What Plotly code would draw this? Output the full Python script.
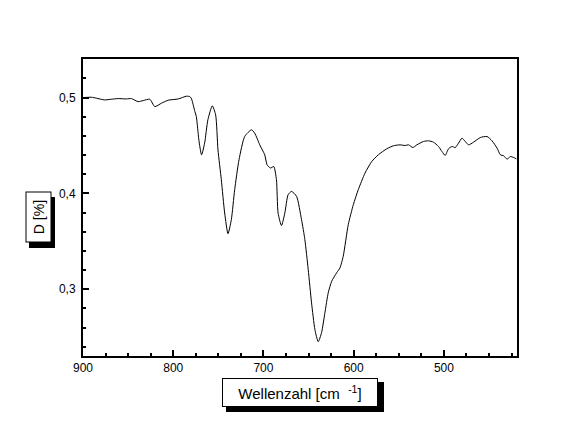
import plotly.graph_objects as go

# Wavenumber (cm^-1) and D values
wavenumber = [900, 890.8, 885.2, 876.3, 868.6, 861.1, 851.9, 846.3, 838.9, 833.3,
              826.0, 820.4, 813.0, 805.6, 794.4, 785.2, 781.6, 780.0, 776.0, 774.4,
              772.2, 771.6, 768.6, 765.2, 761.6, 756.7, 753.0, 750.4, 746.7, 743.0,
              739.3, 735.6, 731.9, 727.1, 720.8, 713.3, 709.7, 704.1, 698.6, 696.0,
              692.2, 688.6, 685.6, 683.8, 680.0, 676.3, 672.7, 668.9, 663.3, 657.8,
              654.1, 650.4, 646.7, 643.0, 639.3, 635.6, 631.9, 628.2, 624.4, 618.9,
              615.2, 611.6, 606.0, 600.4, 594.9, 587.4, 580.0, 572.7, 563.3, 556.0,
              548.6, 543.0, 539.3, 534.4, 530.0, 522.7, 517.1, 511.6, 506.0, 502.2,
              498.6, 494.9, 491.1, 487.4, 483.8, 480.0, 476.3, 472.7, 467.1, 459.7,
              452.2, 446.7, 441.1, 437.4, 433.8, 430.0, 426.3, 422.7, 419.7]
d_values = [0.5000, 0.5004, 0.4994, 0.4976, 0.4983, 0.4990, 0.4986, 0.4990, 0.4958, 0.4969,
            0.4983, 0.4906, 0.4942, 0.4973, 0.4986, 0.5015, 0.5010, 0.4994, 0.4854, 0.4802,
            0.4611, 0.4559, 0.4403, 0.4525, 0.4768, 0.4914, 0.4820, 0.4455, 0.4143, 0.3796,
            0.3580, 0.3726, 0.4039, 0.4351, 0.4594, 0.4664, 0.4629, 0.4507, 0.4403, 0.4299,
            0.4265, 0.4281, 0.4143, 0.3796, 0.3664, 0.3796, 0.3986, 0.4021, 0.3969, 0.3726,
            0.3518, 0.3205, 0.2858, 0.2580, 0.2452, 0.2546, 0.2754, 0.2963, 0.3083, 0.3171,
            0.3223, 0.3344, 0.3674, 0.3882, 0.4039, 0.4213, 0.4333, 0.4403, 0.4466, 0.4497,
            0.4507, 0.4500, 0.4507, 0.4479, 0.4507, 0.4542, 0.4549, 0.4535, 0.4490, 0.4438,
            0.4396, 0.4466, 0.4490, 0.4479, 0.4525, 0.4577, 0.4542, 0.4507, 0.4535, 0.4583,
            0.4594, 0.4549, 0.4473, 0.4403, 0.4393, 0.4358, 0.4385, 0.4375, 0.4361]

x_title = "Wellenzahl [cm  <sup>-1</sup>]"
y_title = "D [%]"

OFF = 8                     # default page body margin
W, H = 569 - OFF, 421 - OFF
L, R, T, B = 83, 517, 59, 356   # plot frame in screen pixels


def px(x):
    return (x - L) / (R - L)


def py(y):
    return (B - y) / (B - T)


fig = go.Figure()
fig.add_trace(go.Scatter(x=wavenumber, y=d_values, mode="lines",
                         line=dict(color="black", width=1, shape="spline", smoothing=0.6),
                         showlegend=False, hoverinfo="skip"))

FAM = "Liberation Sans, Arial, sans-serif"
font = dict(family=FAM, size=12, color="black")

fig.update_layout(
    width=W, height=H,
    margin=dict(l=L - OFF, r=W - (R - OFF), t=T - OFF, b=H - (B - OFF), autoexpand=False),
    paper_bgcolor="white", plot_bgcolor="white",
    separators=",.",
    font=font,
    xaxis=dict(range=[900, 419], showgrid=False, zeroline=False,
               showline=True, linecolor="black", linewidth=2, mirror=True,
               ticks="inside", ticklen=6, tickwidth=2, tickcolor="black",
               tick0=900, dtick=100, tickfont=font,
               minor=dict(ticks="inside", ticklen=3, tickwidth=2, dtick=25,
                          tick0=900, tickcolor="black", showgrid=False)),
    yaxis=dict(range=[0.2303, 0.5403], showgrid=False, zeroline=False,
               showline=True, linecolor="black", linewidth=2, mirror=True,
               ticks="inside", ticklen=6, tickwidth=2, tickcolor="black",
               tick0=0.3, dtick=0.1, tickformat=".1f", tickfont=font,
               ticklabelstandoff=3,
               minor=dict(ticks="inside", ticklen=3, tickwidth=2, dtick=0.02,
                          tick0=0.3, tickcolor="black", showgrid=False)),
)

# shadows of label boxes
fig.add_shape(type="rect", xref="paper", yref="paper",
              x0=px(226), x1=px(384), y0=py(412), y1=py(382),
              fillcolor="black", line=dict(width=0), layer="above")
fig.add_shape(type="rect", xref="paper", yref="paper",
              x0=px(29), x1=px(55), y0=py(248), y1=py(197),
              fillcolor="black", line=dict(width=0), layer="above")

# label boxes
fig.add_annotation(text=x_title, xref="paper", yref="paper",
                   x=px(300), y=py(392.5), xanchor="center", yanchor="middle",
                   showarrow=False, width=154, height=27, bgcolor="white",
                   bordercolor="black", borderwidth=1, borderpad=0,
                   font=dict(family=FAM, size=15, color="black"))
fig.add_annotation(text=y_title, xref="paper", yref="paper",
                   x=px(38), y=py(217.5), xanchor="center", yanchor="middle",
                   showarrow=False, textangle=-90,
                   width=49, height=24, bgcolor="white",
                   bordercolor="black", borderwidth=1, borderpad=0,
                   font=dict(family=FAM, size=14, color="black"))

fig.write_html("out.html")
